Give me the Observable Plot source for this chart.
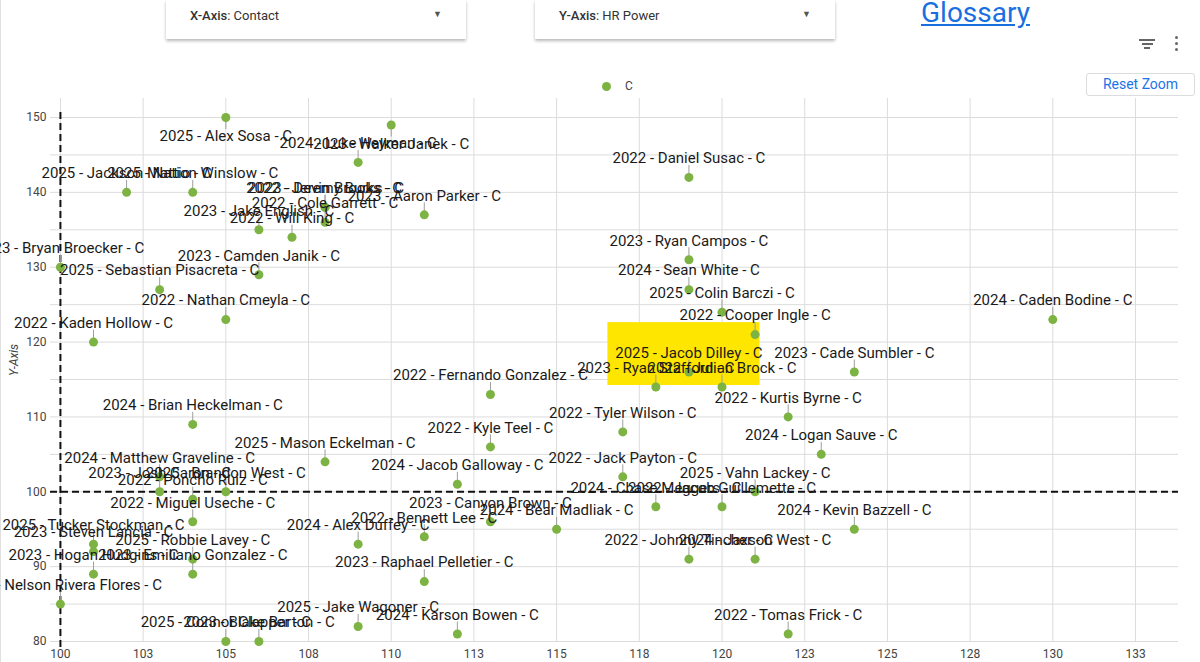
<!DOCTYPE html>
<html><head><meta charset="utf-8">
<script src="https://cdn.jsdelivr.net/npm/d3@7"></script>
<script src="https://cdn.jsdelivr.net/npm/@observablehq/plot@0.6"></script>
<style>
body{margin:0;width:1200px;height:662px;overflow:hidden;background:#fff;font-family:Roboto,sans-serif;position:relative;}
#frame{position:absolute;left:0;top:0;width:1px;height:662px;background:#e0e0e0;}
.card{position:absolute;top:0;height:39px;width:300px;background:#fff;box-shadow:0 2px 3px rgba(0,0,0,0.28);}
.card .lbl{position:absolute;left:24px;top:8px;font-size:13px;color:#333;}
.card .lbl b{font-weight:500;}
.card .arr{position:absolute;right:24px;top:9px;font-size:9px;color:#555;}
#gloss{position:absolute;left:921px;top:-4px;font-size:28px;color:#1a6fe0;text-decoration:underline;}
#filter{position:absolute;left:1139px;top:39px;width:16px;height:12px;}
#filter div{height:1.6px;background:#666;margin:0 auto 2.4px auto;}
#kebab{position:absolute;left:1175px;top:36px;width:4px;}
#kebab div{width:3px;height:3px;border-radius:50%;background:#666;margin-bottom:3px;}
#reset{position:absolute;left:1086px;top:73px;width:107px;height:21px;border:1px solid #dadce0;border-radius:3px;font-size:14px;color:#1a73e8;text-align:center;line-height:21px;}
#legend{position:absolute;left:602px;top:79px;font-size:12px;color:#444;display:flex;align-items:center;}
#legend span.d{display:inline-block;width:9px;height:9px;border-radius:50%;background:#7cb342;margin-right:14px;}
#chart{position:absolute;left:0;top:90px;}
</style></head>
<body>
<div id="frame"></div>
<div class="card" style="left:166px"><div class="lbl"><b>X-Axis</b>: Contact</div><div class="arr">▼</div></div>
<div class="card" style="left:535px"><div class="lbl"><b>Y-Axis</b>: HR Power</div><div class="arr">▼</div></div>
<div id="gloss">Glossary</div>
<div id="filter"><div style="width:16px"></div><div style="width:11px"></div><div style="width:6px"></div></div>
<div id="kebab"><div></div><div></div><div></div></div>
<div id="reset">Reset Zoom</div>
<div id="legend"><span class="d"></span><span>C</span></div>
<div id="chart"></div>
<script>
const players = [
"2025 - Alex Sosa - C","2023 - Walker Janek - C","2024 - Luke Heyman - C","2025 - Jackson Mattio - C",
"2025 - Nation Winslow - C","2022 - Jeremy Burks - C","2023 - Devin Brooks - C","2022 - Cole Garrett - C",
"2023 - Aaron Parker - C","2023 - Jake English - C","2022 - Will King - C","2023 - Bryan Broecker - C",
"2025 - Sebastian Pisacreta - C","2023 - Camden Janik - C","2022 - Nathan Cmeyla - C","2022 - Kaden Hollow - C",
"2024 - Brian Heckelman - C","2025 - Mason Eckelman - C","2024 - Matthew Graveline - C","2023 - Josh Caron - C",
"2025 - Brandon West - C","2022 - Poncho Ruiz - C","2022 - Miguel Useche - C","2025 - Tucker Stockman - C",
"2023 - Steven Lancia - C","2023 - Hogan Hudgins - C","2025 - Robbie Lavey - C","2023 - Emiliano Gonzalez - C",
"2024 - Nelson Rivera Flores - C","2025 - Connor Clapper - C","2023 - Blake Barton - C","2025 - Jake Wagoner - C",
"2024 - Alex Duffey - C","2022 - Bennett Lee - C","2023 - Raphael Pelletier - C","2024 - Karson Bowen - C",
"2023 - Canyon Brown - C","2024 - Bear Madliak - C","2022 - Fernando Gonzalez - C","2022 - Kyle Teel - C",
"2024 - Jacob Galloway - C","2022 - Tyler Wilson - C","2022 - Jack Payton - C","2023 - Ryan Stafford - C",
"2025 - Jacob Dilley - C","2022 - Julian Brock - C","2022 - Cooper Ingle - C","2025 - Colin Barczi - C",
"2024 - Sean White - C","2023 - Ryan Campos - C","2022 - Daniel Susac - C","2022 - Kurtis Byrne - C",
"2024 - Logan Sauve - C","2023 - Cade Sumbler - C","2024 - Caden Bodine - C","2025 - Vahn Lackey - C",
"2024 - Chase Meggers - C","2022 - Jacob Guillemette - C","2024 - Kevin Bazzell - C","2022 - Tomas Frick - C",
"2022 - Johnny Tincher - C","2024 - Jaxson West - C"
];
const contact = [105,110,109,102,104,108,108,108,111,106,107,100,103,106,105,101,104,108,103,103,105,104,104,101,101,101,104,104,100,105,106,109,109,111,111,112,113,115,113,113,112,117,117,118,119,120,121,120,119,119,119,122,123,124,130,121,118,120,124,122,119,121];
const hrPower = [150,149,144,140,140,138,138,136,137,135,134,130,127,129,123,120,109,104,102,100,100,99,96,93,92,89,91,89,85,80,80,82,93,94,88,81,96,95,113,106,101,108,102,114,116,114,121,124,127,131,142,110,105,116,123,100,98,98,95,81,91,91];

const xTicks = [100,102.5,105,107.5,110,112.5,115,117.5,120,122.5,125,127.5,130,132.5];
const yTicks = [80,90,100,110,120,130,140,150];
const yGrid = [80,85,90,95,100,105,110,115,120,125,130,135,140,145,150];
const xDomain = [99.7, 133.8];
const yDomain = [80, 152.54];
const refX = [{x:100, y1:79.2, y2:151}];
const refY = [100];
const highlightBox = [{x1:116.55, x2:121.15, y1:114.2, y2:122.6}];

const data = players.map((p,i)=>({name:p, x:contact[i], y:hrPower[i]}));
const above = data.filter(d=>d.y < 147);
const below = data.filter(d=>d.y >= 147);

const chart = Plot.plot({
  width:1200, height:572, marginTop:8, marginBottom:21, marginLeft:50, marginRight:22,
  style:{fontFamily:"Roboto, sans-serif", background:"transparent", color:"#444", overflow:"visible"},
  x:{domain:xDomain},
  y:{domain:yDomain},
  marks:[
    Plot.gridX(xTicks,{stroke:"#dcdcdc", strokeOpacity:1}),
    Plot.gridY(yGrid,{stroke:"#dcdcdc", strokeOpacity:1}),
    Plot.rect(highlightBox,{x1:"x1",x2:"x2",y1:"y1",y2:"y2",fill:"#ffe600"}),
    Plot.ruleX(refX,{x:"x",y1:"y1",y2:"y2",stroke:"#111",strokeWidth:2,strokeDasharray:"7,4"}),
    Plot.ruleY(refY,{stroke:"#111",strokeWidth:2,strokeDasharray:"7,4"}),
    Plot.ruleX(above,{x:"x",y1:"y",y2:"y",insetTop:0,insetBottom:12,stroke:"#9e9e9e"}),
    Plot.ruleX(below,{x:"x",y1:"y",y2:"y",insetTop:0,insetBottom:-12,stroke:"#9e9e9e"}),
    Plot.dot(data,{x:"x",y:"y",r:4.5,fill:"#7cb342"}),
    Plot.text(above,{x:"x",y:"y",text:"name",dy:-19,fontSize:15,fill:"#1a1a1a"}),
    Plot.text(below,{x:"x",y:"y",text:"name",dy:19,fontSize:15,fill:"#1a1a1a"}),
    Plot.axisX(xTicks,{tickSize:0,tickPadding:8,tickFormat:d=>String(Math.round(d)),fontSize:12,label:null}),
    Plot.axisY(yTicks,{tickSize:0,tickPadding:4,fontSize:12,label:null}),
    Plot.text(["Y-Axis"],{frameAnchor:"left",rotate:-90,dx:-36,dy:6,fontStyle:"italic",fontSize:12,fill:"#444"})
  ]
});
document.getElementById("chart").appendChild(chart);
</script>
</body></html>
